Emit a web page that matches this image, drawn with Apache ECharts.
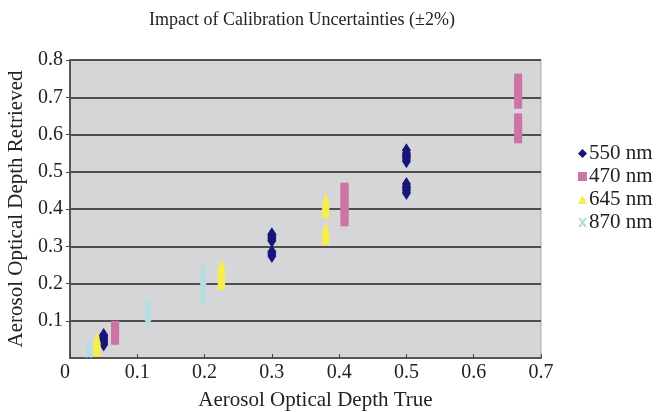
<!DOCTYPE html>
<html><head><meta charset="utf-8">
<script src="https://cdn.jsdelivr.net/npm/echarts@6/dist/echarts.min.js"></script>
<style>html,body{margin:0;padding:0;background:#fff}#c{width:657px;height:412px}</style>
</head><body><div id="c"></div>
<script>
// Data: [true AOD, retrieved AOD]
const seriesNames = ['550 nm', '470 nm', '645 nm', '870 nm'];
const xTicks = ['0', '0.1', '0.2', '0.3', '0.4', '0.5', '0.6', '0.7'];
const yTicks = ['0.1', '0.2', '0.3', '0.4', '0.5', '0.6', '0.7', '0.8'];
const nm550 = [
  [0.05, 0.036], [0.05, 0.04], [0.05, 0.045], [0.05, 0.05], [0.05, 0.055], [0.05, 0.06], [0.05, 0.062],
  [0.30, 0.274], [0.30, 0.28], [0.30, 0.285],
  [0.30, 0.315], [0.30, 0.32], [0.30, 0.325], [0.30, 0.33], [0.30, 0.332],
  [0.50, 0.443], [0.50, 0.45], [0.50, 0.455], [0.50, 0.46], [0.50, 0.467],
  [0.50, 0.528], [0.50, 0.535], [0.50, 0.54], [0.50, 0.545], [0.50, 0.55], [0.50, 0.558]
];
const nm470 = [
  [0.067, 0.046], [0.067, 0.055], [0.067, 0.065], [0.067, 0.075], [0.067, 0.085], [0.067, 0.089],
  [0.408, 0.364], [0.408, 0.375], [0.408, 0.385], [0.408, 0.395], [0.408, 0.405],
  [0.408, 0.415], [0.408, 0.425], [0.408, 0.435], [0.408, 0.445], [0.408, 0.455], [0.408, 0.46],
  [0.666, 0.587], [0.666, 0.597], [0.666, 0.607], [0.666, 0.617], [0.666, 0.627], [0.666, 0.637], [0.666, 0.646],
  [0.666, 0.68], [0.666, 0.69], [0.666, 0.70], [0.666, 0.71], [0.666, 0.72], [0.666, 0.73], [0.666, 0.74], [0.666, 0.753]
];
const nm645 = [
  [0.04, 0.02], [0.04, 0.025], [0.04, 0.03], [0.04, 0.035], [0.04, 0.04], [0.04, 0.045], [0.04, 0.05], [0.04, 0.055],
  [0.225, 0.198], [0.225, 0.205], [0.225, 0.21], [0.225, 0.215], [0.225, 0.22], [0.225, 0.225],
  [0.225, 0.23], [0.225, 0.235], [0.225, 0.24], [0.225, 0.245], [0.225, 0.25],
  [0.38, 0.32], [0.38, 0.325], [0.38, 0.33], [0.38, 0.335], [0.38, 0.34], [0.38, 0.345], [0.38, 0.35],
  [0.38, 0.392], [0.38, 0.398], [0.38, 0.405], [0.38, 0.41], [0.38, 0.415], [0.38, 0.42], [0.38, 0.428]
];
const nm870 = [
  [0.028, 0.012], [0.028, 0.018], [0.028, 0.025], [0.028, 0.032], [0.028, 0.04],
  [0.116, 0.095], [0.116, 0.1], [0.116, 0.105], [0.116, 0.11], [0.116, 0.115], [0.116, 0.12],
  [0.116, 0.125], [0.116, 0.13], [0.116, 0.135], [0.116, 0.14], [0.116, 0.145],
  [0.198, 0.155], [0.198, 0.16], [0.198, 0.165], [0.198, 0.17], [0.198, 0.175], [0.198, 0.18],
  [0.198, 0.185], [0.198, 0.19], [0.198, 0.195], [0.198, 0.2], [0.198, 0.205], [0.198, 0.21],
  [0.198, 0.215], [0.198, 0.22], [0.198, 0.225], [0.198, 0.23], [0.198, 0.235], [0.198, 0.24]
];

const colors = ['#16167a', '#cc75a5', '#f6ee4c', '#b8dde0'];
const crossPath = 'path://M0,0L3,0L5,3L7,0L10,0L6.5,5L10,10L7,10L5,7L3,10L0,10L3.5,5Z';
const symbols = ['diamond', 'rect', 'triangle', crossPath];
const sizes = [[9, 14], [8, 8], [8, 12], [7, 8]];
const allData = [nm550, nm470, nm645, nm870];

const chart = echarts.init(document.getElementById('c'), null, {renderer: 'canvas'});
const font = 'Liberation Serif';
chart.setOption({
  animation: false,
  backgroundColor: '#ffffff',
  textStyle: {fontFamily: font},
  title: {
    text: 'Impact of Calibration Uncertainties (\u00b12%)',
    left: 297, top: 6, textAlign: 'center',
    textStyle: {fontFamily: font, fontSize: 18, fontWeight: 'normal', color: '#222'}
  },
  legend: {
    orient: 'vertical', left: 578, top: 143, padding: 0,
    itemGap: 2, itemWidth: 9, itemHeight: 9,
    data: seriesNames.map((n, i) => ({name: n, icon: symbols[i]})),
    textStyle: {fontFamily: font, fontSize: 21, color: '#222', padding: [0, 0, 0, -3]}
  },
  grid: {left: 70, right: 116, top: 60, bottom: 54, outerBoundsMode: 'none', containLabel: false,
    show: true, backgroundColor: '#d6d6d8', borderColor: '#aaaaaa', borderWidth: 1},
  xAxis: {
    type: 'value', min: 0, max: 0.7, interval: 0.1,
    name: 'Aerosol Optical Depth True', nameLocation: 'middle', nameGap: 32,
    nameTextStyle: {fontFamily: font, fontSize: 21, color: '#222', padding: [0, 0, 0, 20]},
    axisLine: {show: true, lineStyle: {color: '#555', width: 2}},
    axisTick: {show: true, inside: true, length: 4, lineStyle: {color: '#444'}},
    axisLabel: {fontFamily: font, fontSize: 20, color: '#222', margin: 5, alignMinLabel: 'right',
      formatter: v => xTicks[Math.round(v * 10)]},
    splitLine: {show: false}
  },
  yAxis: {
    type: 'value', min: 0, max: 0.8, interval: 0.1,
    name: 'Aerosol Optical Depth Retrieved', nameLocation: 'middle', nameGap: 42,
    nameTextStyle: {fontFamily: font, fontSize: 21, color: '#222'},
    axisLine: {show: true, lineStyle: {color: '#555', width: 2}},
    axisTick: {show: true, length: 4, lineStyle: {color: '#444'}},
    axisLabel: {fontFamily: font, fontSize: 20, color: '#222', margin: 7, showMinLabel: false,
      formatter: v => v === 0 ? '' : yTicks[Math.round(v * 10) - 1]},
    splitLine: {show: true, lineStyle: {color: '#4f4f4f', width: 2}}
  },
  series: seriesNames.map((n, i) => ({
    name: n, type: 'scatter', data: allData[i],
    symbol: symbols[i], symbolSize: sizes[i],
    itemStyle: {color: colors[i], opacity: 1},
    z: 2
  }))
});
</script></body></html>
